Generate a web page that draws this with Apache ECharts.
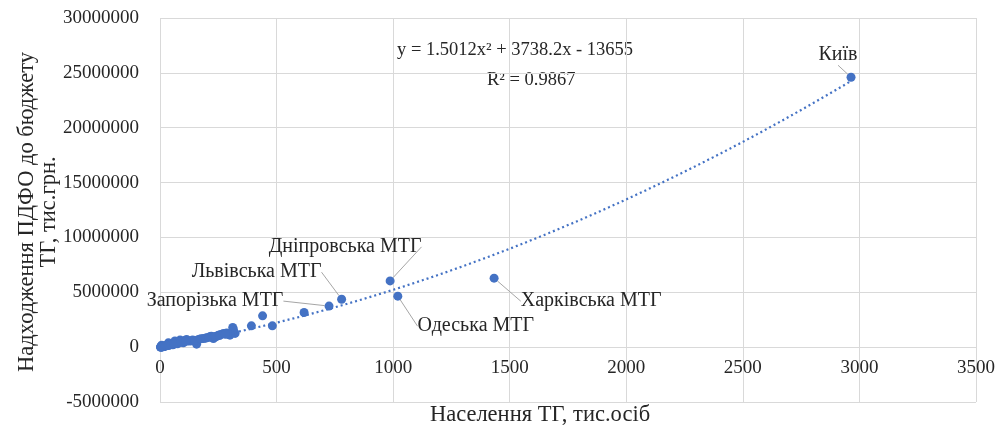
<!DOCTYPE html>
<html>
<head>
<meta charset="utf-8">
<script src="https://cdn.jsdelivr.net/npm/echarts@6/dist/echarts.min.js"></script>
<style>
html,body{margin:0;padding:0;background:#fff;}
#chart{width:1003px;height:433px;}
</style>
</head>
<body>
<div id="chart"></div>
<script>
// Labelled communities: population (thousand persons), PIT revenue (thousand UAH)
const labelledNames = ['Київ', 'Харківська МТГ', 'Дніпровська МТГ', 'Одеська МТГ', 'Львівська МТГ', 'Запорізька МТГ'];
const labelledPop   = [2964, 1433, 987, 1020, 779, 725];
const labelledPit   = [24600000, 6290000, 6040000, 4650000, 4370000, 3740000];

// Other communities
const otherPop = [618, 440, 482, 392, 312, 322, 315, 300, 286, 272, 250, 229, 214, 186, 157, 121, 114, 86, 64, 36, 7,
  5, 10, 15, 20, 25, 30, 12, 18, 8, 3, 40, 45, 50, 55, 60, 70, 75, 80, 95, 100, 105, 130, 140, 165, 200, 220, 240, 260, 290,
  2, 4, 6, 9, 11, 14, 16, 22, 27, 33, 38, 48, 58, 66, 90, 110, 150, 175, 195, 210, 235, 255, 280];
const otherPit = [3160000, 2850000, 1940000, 1940000, 1800000, 1250000, 1610000, 1090000, 1300000, 1250000, 1090000, 790000, 940000, 790000, 270000, 570000, 700000, 640000, 570000, 390000, 180000,
  20000, 50000, 60000, 90000, 120000, 150000, 30000, 80000, 40000, 10000, 200000, 250000, 300000, 220000, 350000, 400000, 300000, 450000, 500000, 400000, 600000, 550000, 650000, 700000, 850000, 1000000, 950000, 1150000, 1200000,
  5000, 15000, 25000, 45000, 35000, 70000, 55000, 110000, 130000, 180000, 160000, 240000, 280000, 320000, 480000, 520000, 600000, 760000, 820000, 900000, 980000, 1050000, 1180000];

// Trendline coefficients shown on the chart: y = a*x^2 + b*x + c
const trendCoef = [1.5012, 3738.2, -13655];
const trendLabel = ['y = 1.5012x² + 3738.2x - 13655', 'R² = 0.9867'];

const xTicks = {min: 0, max: 3500, interval: 500};
const yTicks = {min: -5000000, max: 30000000, interval: 5000000};
const xTitle = 'Населення ТГ, тис.осіб';
const yTitle = 'Надходження ПДФО до бюджету\nТГ, тис.грн.';

// label offsets (layout only)
const labelOffsets = {
  'Київ': [-13, -22],
  'Харківська МТГ': [97, 23],
  'Дніпровська МТГ': [-45, -34],
  'Одеська МТГ': [78, 30],
  'Львівська МТГ': [-85, -27],
  'Запорізька МТГ': [-114, -5]
};

const FONT = '"Liberation Serif", "Times New Roman", serif';
const BLUE = '#4472C4';
const TXT = '#262626';

const scatterData = [];
for (let i = 0; i < otherPop.length; i++) scatterData.push({value: [otherPop[i], otherPit[i]]});
for (let i = 0; i < labelledNames.length; i++) scatterData.push({
  name: labelledNames[i], value: [labelledPop[i], labelledPit[i]],
  label: {show: true}
});

const maxX = Math.max.apply(null, labelledPop.concat(otherPop));
const minX = Math.min.apply(null, labelledPop.concat(otherPop));
const trendData = [];
const steps = 80;
for (let k = 0; k <= steps; k++) {
  const x = minX + (maxX - minX) * k / steps;
  trendData.push([x, trendCoef[0] * x * x + trendCoef[1] * x + trendCoef[2]]);
}

const plain = v => String(v);

const chart = echarts.init(document.getElementById('chart'));
chart.setOption({
  backgroundColor: '#fff',
  animation: false,
  grid: {left: 160, right: 27, top: 18, bottom: 31, containLabel: false, outerBoundsMode: 'none'},
  xAxis: {
    type: 'value', min: xTicks.min, max: xTicks.max, interval: xTicks.interval,
    offset: -55,
    axisLine: {show: true, onZero: false, lineStyle: {color: '#d9d9d9'}},
    axisTick: {show: false},
    axisLabel: {fontFamily: FONT, fontSize: 19, color: TXT, margin: 12, formatter: plain},
    splitLine: {show: true, lineStyle: {color: '#d9d9d9'}}
  },
  yAxis: {
    type: 'value', min: yTicks.min, max: yTicks.max, interval: yTicks.interval,
    axisLine: {show: false},
    axisTick: {show: false},
    axisLabel: {fontFamily: FONT, fontSize: 19, color: TXT, margin: 21, formatter: plain},
    splitLine: {show: true, lineStyle: {color: '#d9d9d9'}}
  },
  series: [
    {
      type: 'line', data: trendData, showSymbol: false, symbol: 'none', silent: true,
      lineStyle: {color: BLUE, width: 2.2, type: [2, 3]}, z: 1
    },
    {
      type: 'scatter', data: scatterData, symbolSize: 9,
      itemStyle: {color: BLUE, opacity: 1}, z: 2,
      label: {show: false, position: 'inside', formatter: '{b}', fontFamily: FONT, fontSize: 20, color: TXT},
      labelLine: {show: true, lineStyle: {color: '#a6a6a6', width: 1}},
      labelLayout: function (p) {
        const o = labelOffsets[p.text] || [0, 0];
        return {dx: o[0], dy: o[1], hideOverlap: false};
      }
    }
  ],
  graphic: [
    {type: 'text', left: 397, top: 41, style: {text: trendLabel[0], font: '18.5px ' + FONT, fill: TXT}},
    {type: 'text', left: 487, top: 71, style: {text: trendLabel[1], font: '18.5px ' + FONT, fill: TXT}},
    {type: 'text', x: 38, y: 212, rotation: Math.PI / 2,
     style: {text: yTitle, font: '22.5px ' + FONT, fill: TXT, align: 'center', verticalAlign: 'middle', lineHeight: 22}},
    {type: 'text', x: 540, y: 415,
     style: {text: xTitle, font: '22.5px ' + FONT, fill: TXT, align: 'center', verticalAlign: 'middle'}}
  ]
});
</script>
</body>
</html>
